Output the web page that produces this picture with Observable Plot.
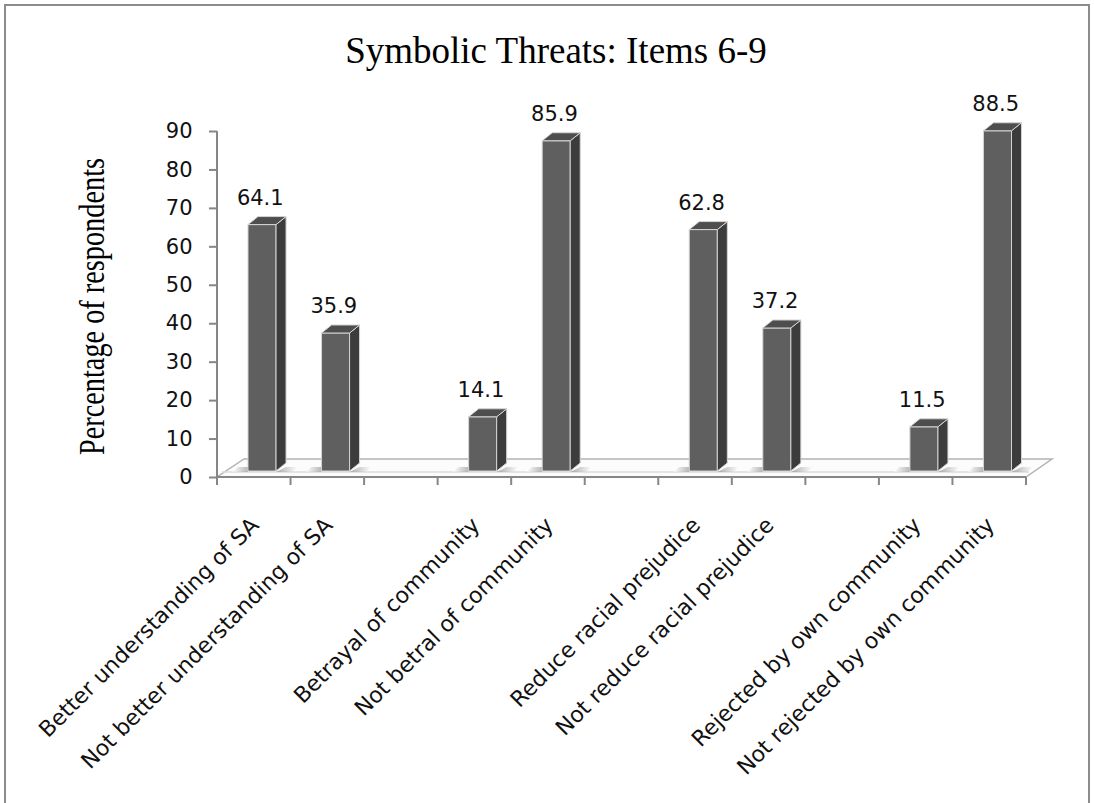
<!DOCTYPE html>
<html>
<head>
<meta charset="utf-8">
<script src="https://cdn.jsdelivr.net/npm/d3@7"></script>
<script src="https://cdn.jsdelivr.net/npm/@observablehq/plot@0.6"></script>
<style>
  html, body { margin: 0; padding: 0; background: #fff; overflow: hidden; }
  #wrap { position: relative; width: 1094px; height: 803px; }
  #frame { position: absolute; left: 4px; top: 4px; width: 1086px; height: 900px;
           border: 2px solid #8c8c8c; box-sizing: border-box; }
  #title { position: absolute; left: 18px; top: 32px; width: 1076px; text-align: center;
           font-family: "Liberation Serif", serif; font-size: 37px; line-height: 37px; color: #000; }
  #chart { position: absolute; left: 0; top: 100px; }
</style>
</head>
<body>
<div id="wrap">
  <div id="frame"></div>
  <div id="title"></div>
  <div id="chart"></div>
</div>
<script>
// ---- data ----
const chartTitle = "Symbolic Threats: Items 6-9";
const yLabel = "Percentage of respondents";
const categories = [
  "Better understanding of SA",
  "Not better understanding of SA",
  " ",
  "Betrayal of community",
  "Not betral of community",
  "  ",
  "Reduce racial prejudice",
  "Not reduce racial prejudice",
  "   ",
  "Rejected by own community",
  "Not rejected by own community"
];
const values = [64.1, 35.9, null, 14.1, 85.9, null, 62.8, 37.2, null, 11.5, 88.5];
const yTicks = [0, 10, 20, 30, 40, 50, 60, 70, 80, 90];

const bars = categories
  .map((category, i) => ({category, value: values[i]}))
  .filter(d => d.value != null);

document.getElementById("title").textContent = chartTitle;

// ---- styling constants ----
const AXIS = "#868686";
const FRONT = "#5f5f5f", SIDE = "#3c3c3c", TOP = "#4e4e4e", EDGE = "#d4d4d4";
const INSET_L = 31, INSET_R = 14.5, DEPTH_X = 10, DEPTH_Y = 8, LIFT = 6;

function bw(x) { return typeof x.bandwidth === "function" ? x.bandwidth() : x.bandwidth; }

// floor, axis line and boundary ticks (drawn from the scales)
function floorMark(index, scales) {
  const {x, y} = scales;
  const w = bw(x);
  const L = x(categories[0]), R = x(categories[categories.length - 1]) + w;
  const Y0 = y(0), Yb = y(0) - 18;
  const g = d3.create("svg:g");
  g.append("path")
    .attr("d", `M${L},${Y0}L${R},${Y0}L${R + 26},${Yb}L${L + 27},${Yb}Z`)
    .attr("fill", "#fcfcfc").attr("stroke", "#b3b3b3").attr("stroke-width", 1.5);
  g.append("path")
    .attr("d", `M${L + 5},${Y0 - 5}L${R + 3},${Y0 - 5}`)
    .attr("stroke", "#dcdcdc").attr("stroke-width", 1.5);
  // y axis line
  g.append("line").attr("x1", L).attr("x2", L).attr("y1", y(90)).attr("y2", Y0 + 8)
    .attr("stroke", AXIS).attr("stroke-width", 2);
  // x axis line
  g.append("line").attr("x1", L).attr("x2", R).attr("y1", Y0).attr("y2", Y0)
    .attr("stroke", AXIS).attr("stroke-width", 2);
  // boundary ticks
  const bounds = categories.map(c => x(c)).concat([R]);
  g.selectAll("line.t").data(bounds).join("line").attr("class", "t")
    .attr("x1", d => d).attr("x2", d => d).attr("y1", Y0).attr("y2", Y0 + 8)
    .attr("stroke", AXIS).attr("stroke-width", 2);
  // soft shadows beside each bar on the floor
  const defs = g.append("defs");
  const gl = defs.append("linearGradient").attr("id", "shL");
  gl.append("stop").attr("offset", "0%").attr("stop-color", "#fff");
  gl.append("stop").attr("offset", "100%").attr("stop-color", "#9a9a9a");
  const gr = defs.append("linearGradient").attr("id", "shR");
  gr.append("stop").attr("offset", "0%").attr("stop-color", "#8a8a8a");
  gr.append("stop").attr("offset", "100%").attr("stop-color", "#fff");
  const yb = Y0 - LIFT;
  for (const d of bars) {
    const X0 = x(d.category) + INSET_L, X1 = x(d.category) + w - INSET_R;
    g.append("path").attr("d", `M${X0 - 16},${yb + 1}L${X0},${yb + 1}L${X0},${yb - 4}L${X0 - 10},${yb - 4}Z`)
      .attr("fill", "url(#shL)").attr("opacity", 0.7);
    g.append("path").attr("d", `M${X1},${yb + 1}L${X1 + 16},${yb + 1}L${X1 + 22},${yb - 4}L${X1 + DEPTH_X},${yb - 4}Z`)
      .attr("fill", "url(#shR)").attr("opacity", 0.7);
  }
  return g.node();
}

// side and top faces of the 3-D columns
function facesMark(index, scales) {
  const {x, y} = scales;
  const w = bw(x);
  const g = d3.create("svg:g");
  for (const d of bars) {
    const X0 = x(d.category) + INSET_L, X1 = x(d.category) + w - INSET_R;
    const Yt = y(d.value) - LIFT, Yb = y(0) - LIFT;
    g.append("path")
      .attr("d", `M${X1},${Yt}L${X1 + DEPTH_X},${Yt - DEPTH_Y}L${X1 + DEPTH_X},${Yb - DEPTH_Y}L${X1},${Yb}Z`)
      .attr("fill", SIDE).attr("stroke", EDGE).attr("stroke-width", 1).attr("stroke-linejoin", "round");
    g.append("path")
      .attr("d", `M${X0},${Yt}L${X0 + DEPTH_X},${Yt - DEPTH_Y}L${X1 + DEPTH_X},${Yt - DEPTH_Y}L${X1},${Yt}Z`)
      .attr("fill", TOP).attr("stroke", EDGE).attr("stroke-width", 1).attr("stroke-linejoin", "round");
  }
  return g.node();
}

const chart = Plot.plot({
  width: 1094,
  height: 703,
  marginLeft: 217,
  marginRight: 68,
  marginTop: 31,
  marginBottom: 326,
  style: {background: "transparent", overflow: "visible"},
  x: {type: "band", domain: categories, padding: 0, round: false, axis: null},
  y: {domain: [0, 90], axis: null},
  marks: [
    floorMark,
    Plot.barY(bars, {
      x: "category", y: "value", fill: FRONT, stroke: EDGE, strokeWidth: 1,
      insetLeft: INSET_L, insetRight: INSET_R, dy: -LIFT
    }),
    facesMark,
    Plot.text(bars, {
      x: "category", y: "value", text: d => d.value.toFixed(1),
      dx: 6, dy: -26, lineAnchor: "bottom",
      fontSize: 21, fontFamily: "DejaVu Sans", fill: "#111"
    }),
    Plot.axisY({
      ticks: yTicks, tickSize: 8, tickPadding: 17, label: null,
      stroke: AXIS, strokeWidth: 2, fill: "#111",
      fontSize: 21, fontFamily: "DejaVu Sans"
    }),
    Plot.text(categories.filter(c => c.trim() !== ""), {
      x: d => d, text: d => d, frameAnchor: "bottom", rotate: -45,
      textAnchor: "end", lineAnchor: "middle", dx: 1, dy: 44,
      fontSize: 22, fontFamily: "DejaVu Sans", fill: "#111"
    }),
    Plot.text([yLabel], {
      frameAnchor: "left", rotate: -90, textAnchor: "middle", lineAnchor: "middle",
      dx: -125, dy: 2,
      fontSize: 36, fontFamily: "Liberation Serif", fill: "#000"
    })
  ]
});

document.getElementById("chart").appendChild(chart);

// compress the rotated axis title along its reading direction
d3.select(chart).selectAll("text")
  .filter(function () { return this.textContent === yLabel; })
  .attr("textLength", 297).attr("lengthAdjust", "spacingAndGlyphs");
</script>
</body>
</html>
